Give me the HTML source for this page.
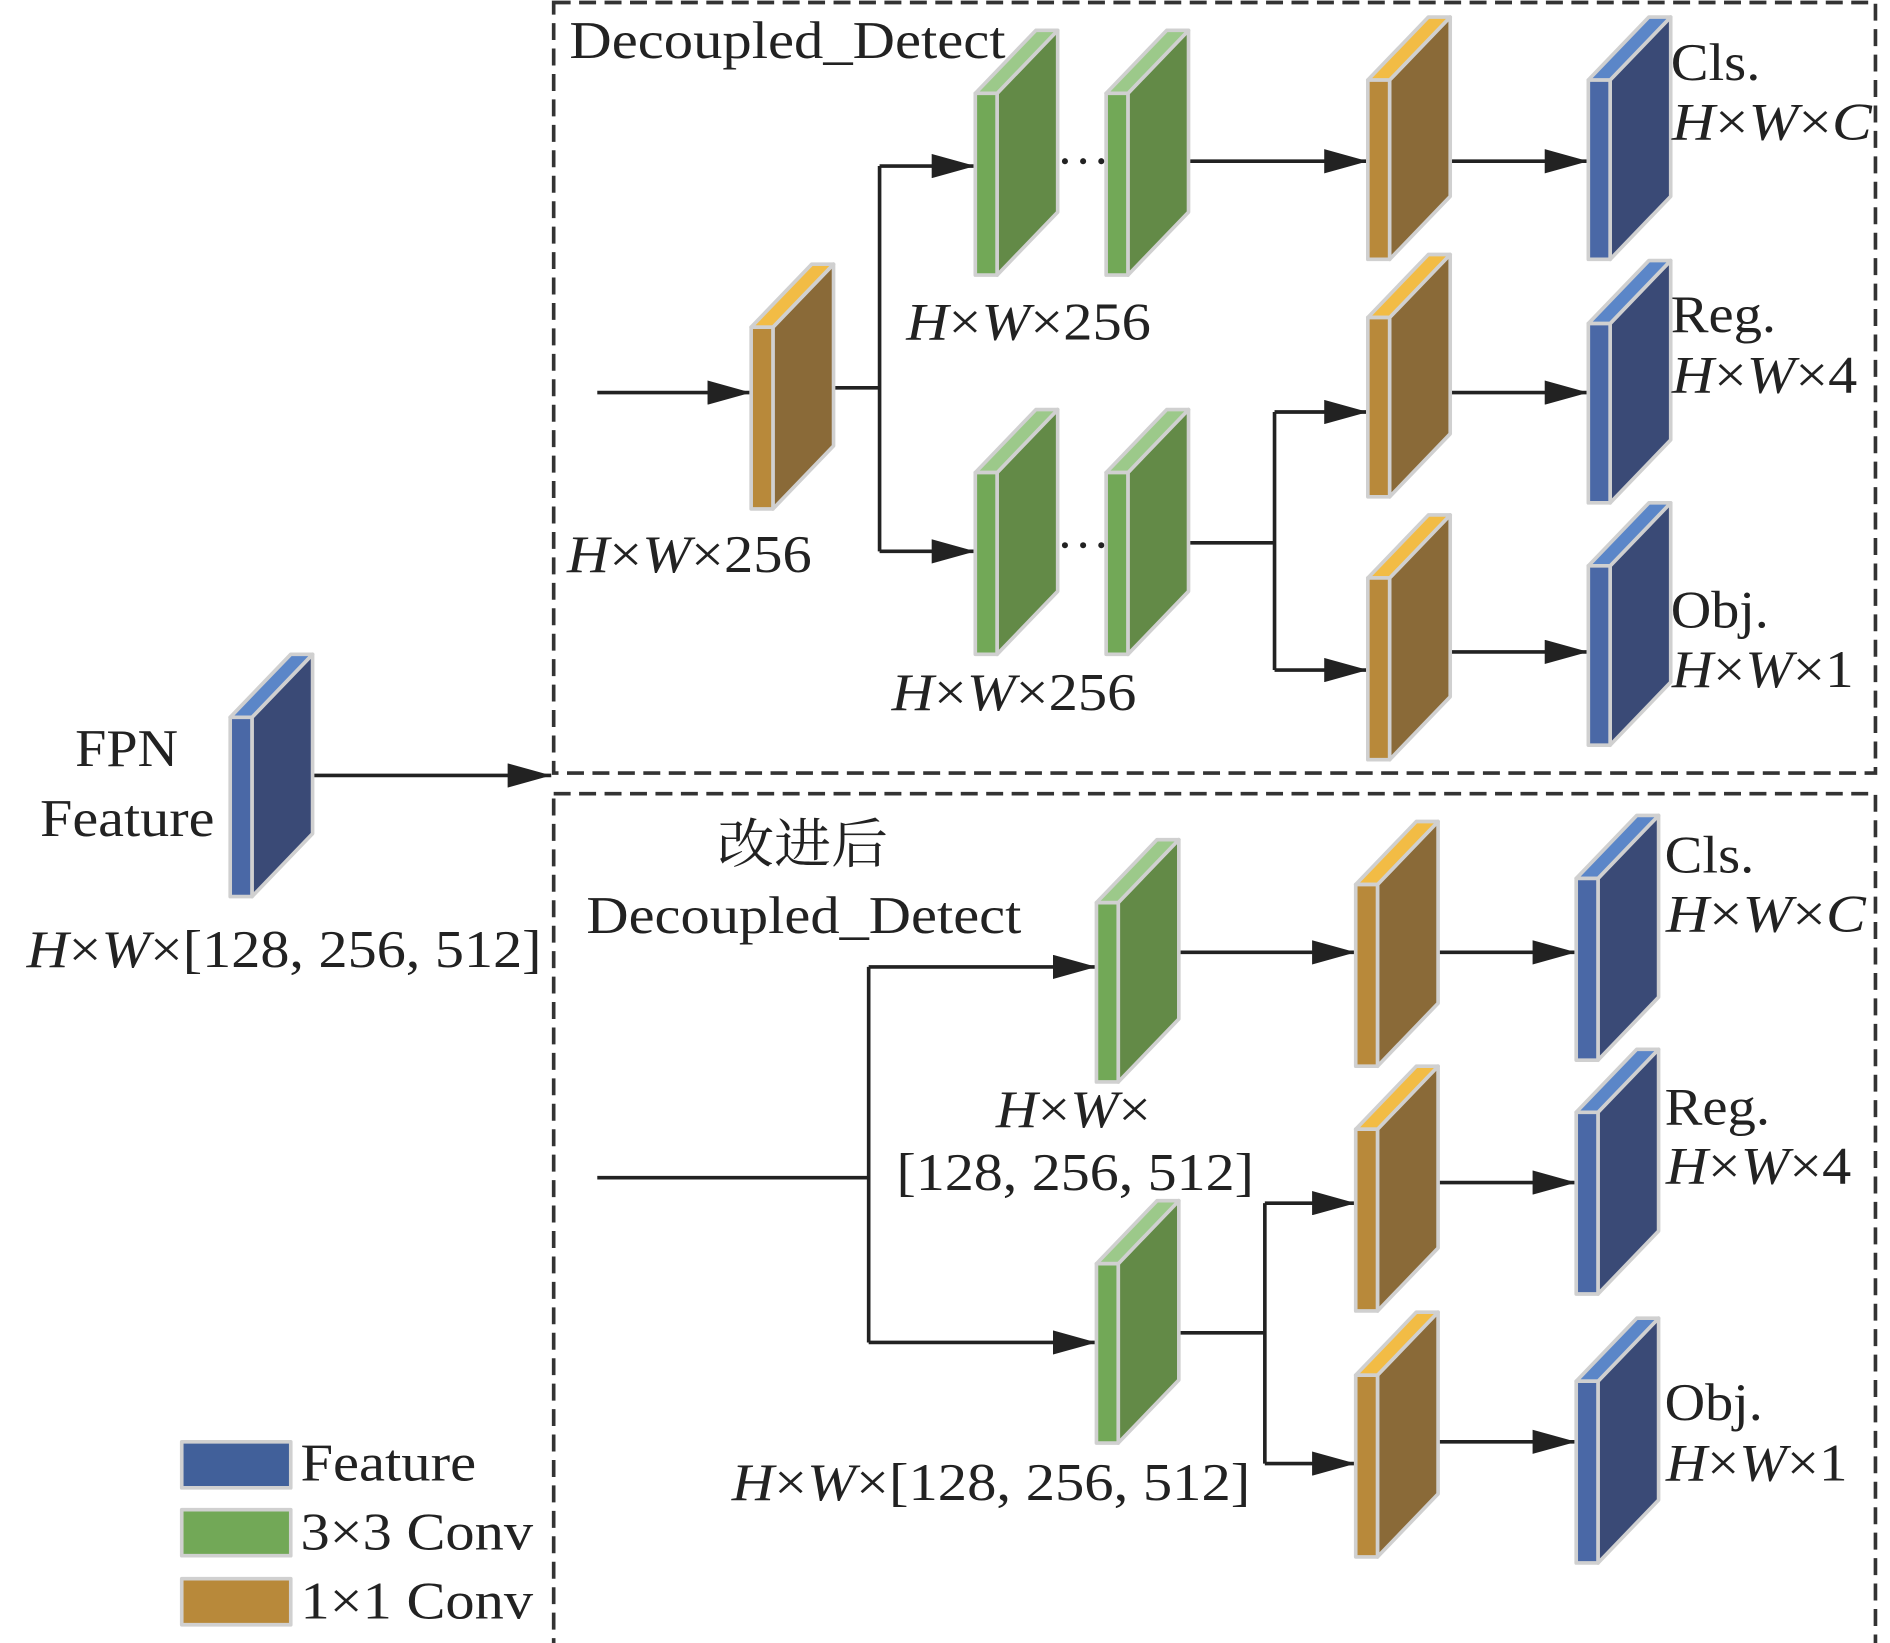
<!DOCTYPE html>
<html><head><meta charset="utf-8"><style>html,body{margin:0;padding:0;background:#fff}svg{display:block}</style></head><body>
<svg width="1890" height="1643" viewBox="0 0 1560 1356" xmlns="http://www.w3.org/2000/svg" font-family="'Liberation Serif','Noto Serif CJK SC',serif" font-size="44" fill="#222">
<defs>
<marker id="ar" viewBox="0 0 36 20" markerWidth="36" markerHeight="20" refX="36" refY="10" orient="auto" markerUnits="userSpaceOnUse"><path d="M0,0 L36,10 L0,20 z" fill="#222"/></marker>
</defs>
<g fill="none" stroke="#333" stroke-width="3" stroke-dasharray="14,7">
<rect x="457" y="2" width="1091" height="636"/>
<rect x="457" y="655" width="1091" height="703"/>
</g>
<g stroke="#222" stroke-width="3" fill="none">
<path d="M258,640 H455" marker-end="url(#ar)"/>
<path d="M493,324 H620" marker-end="url(#ar)"/>
<path d="M688,320 H726 M726,137 V455"/>
<path d="M726,137 H805" marker-end="url(#ar)"/>
<path d="M726,455 H805" marker-end="url(#ar)"/>
<path d="M981,133 H1129" marker-end="url(#ar)"/>
<path d="M1197,133 H1311" marker-end="url(#ar)"/>
<path d="M981,448 H1052 M1052,340 V553"/>
<path d="M1052,340 H1129" marker-end="url(#ar)"/>
<path d="M1052,553 H1129" marker-end="url(#ar)"/>
<path d="M1197,324 H1311" marker-end="url(#ar)"/>
<path d="M1197,538 H1311" marker-end="url(#ar)"/>
<path d="M493,972 H717 M717,798 V1108"/>
<path d="M717,798 H905" marker-end="url(#ar)"/>
<path d="M717,1108 H905" marker-end="url(#ar)"/>
<path d="M973,786 H1119" marker-end="url(#ar)"/>
<path d="M1187,786 H1301" marker-end="url(#ar)"/>
<path d="M973,1100 H1044 M1044,993 V1208"/>
<path d="M1044,993 H1119" marker-end="url(#ar)"/>
<path d="M1044,1208 H1119" marker-end="url(#ar)"/>
<path d="M1187,976 H1301" marker-end="url(#ar)"/>
<path d="M1187,1190 H1301" marker-end="url(#ar)"/>
</g>
<g fill="#222"><circle cx="879" cy="133" r="2.5"/><circle cx="894" cy="133" r="2.5"/><circle cx="909" cy="133" r="2.5"/>
<circle cx="879" cy="450" r="2.5"/><circle cx="894" cy="450" r="2.5"/><circle cx="909" cy="450" r="2.5"/></g>
<g stroke="#d0d0d0" stroke-width="3" stroke-linejoin="round">
<path d="M208,592 L258,540 L258,688 L208,740 Z" fill="#3a4a76"/><path d="M190,592 L208,592 L258,540 L240,540 Z" fill="#5b86c8"/><rect x="190" y="592" width="18" height="148" fill="#4a68a6"/>
<path d="M638,270 L688,218 L688,368 L638,420 Z" fill="#8a6a38"/><path d="M620,270 L638,270 L688,218 L670,218 Z" fill="#f2bc45"/><rect x="620" y="270" width="18" height="150" fill="#b8893a"/>
<path d="M823,77 L873,25 L873,175 L823,227 Z" fill="#638a47"/><path d="M805,77 L823,77 L873,25 L855,25 Z" fill="#9cc98a"/><rect x="805" y="77" width="18" height="150" fill="#72a857"/>
<path d="M931,77 L981,25 L981,175 L931,227 Z" fill="#638a47"/><path d="M913,77 L931,77 L981,25 L963,25 Z" fill="#9cc98a"/><rect x="913" y="77" width="18" height="150" fill="#72a857"/>
<path d="M823,390 L873,338 L873,488 L823,540 Z" fill="#638a47"/><path d="M805,390 L823,390 L873,338 L855,338 Z" fill="#9cc98a"/><rect x="805" y="390" width="18" height="150" fill="#72a857"/>
<path d="M931,390 L981,338 L981,488 L931,540 Z" fill="#638a47"/><path d="M913,390 L931,390 L981,338 L963,338 Z" fill="#9cc98a"/><rect x="913" y="390" width="18" height="150" fill="#72a857"/>
<path d="M1147,66 L1197,14 L1197,162 L1147,214 Z" fill="#8a6a38"/><path d="M1129,66 L1147,66 L1197,14 L1179,14 Z" fill="#f2bc45"/><rect x="1129" y="66" width="18" height="148" fill="#b8893a"/>
<path d="M1147,262 L1197,210 L1197,358 L1147,410 Z" fill="#8a6a38"/><path d="M1129,262 L1147,262 L1197,210 L1179,210 Z" fill="#f2bc45"/><rect x="1129" y="262" width="18" height="148" fill="#b8893a"/>
<path d="M1147,477 L1197,425 L1197,575 L1147,627 Z" fill="#8a6a38"/><path d="M1129,477 L1147,477 L1197,425 L1179,425 Z" fill="#f2bc45"/><rect x="1129" y="477" width="18" height="150" fill="#b8893a"/>
<path d="M1329,66 L1379,14 L1379,162 L1329,214 Z" fill="#3a4a76"/><path d="M1311,66 L1329,66 L1379,14 L1361,14 Z" fill="#5b86c8"/><rect x="1311" y="66" width="18" height="148" fill="#4a68a6"/>
<path d="M1329,267 L1379,215 L1379,363 L1329,415 Z" fill="#3a4a76"/><path d="M1311,267 L1329,267 L1379,215 L1361,215 Z" fill="#5b86c8"/><rect x="1311" y="267" width="18" height="148" fill="#4a68a6"/>
<path d="M1329,467 L1379,415 L1379,563 L1329,615 Z" fill="#3a4a76"/><path d="M1311,467 L1329,467 L1379,415 L1361,415 Z" fill="#5b86c8"/><rect x="1311" y="467" width="18" height="148" fill="#4a68a6"/>
<path d="M923,745 L973,693 L973,841 L923,893 Z" fill="#638a47"/><path d="M905,745 L923,745 L973,693 L955,693 Z" fill="#9cc98a"/><rect x="905" y="745" width="18" height="148" fill="#72a857"/>
<path d="M923,1043 L973,991 L973,1139 L923,1191 Z" fill="#638a47"/><path d="M905,1043 L923,1043 L973,991 L955,991 Z" fill="#9cc98a"/><rect x="905" y="1043" width="18" height="148" fill="#72a857"/>
<path d="M1137,730 L1187,678 L1187,828 L1137,880 Z" fill="#8a6a38"/><path d="M1119,730 L1137,730 L1187,678 L1169,678 Z" fill="#f2bc45"/><rect x="1119" y="730" width="18" height="150" fill="#b8893a"/>
<path d="M1137,932 L1187,880 L1187,1030 L1137,1082 Z" fill="#8a6a38"/><path d="M1119,932 L1137,932 L1187,880 L1169,880 Z" fill="#f2bc45"/><rect x="1119" y="932" width="18" height="150" fill="#b8893a"/>
<path d="M1137,1135 L1187,1083 L1187,1233 L1137,1285 Z" fill="#8a6a38"/><path d="M1119,1135 L1137,1135 L1187,1083 L1169,1083 Z" fill="#f2bc45"/><rect x="1119" y="1135" width="18" height="150" fill="#b8893a"/>
<path d="M1319,725 L1369,673 L1369,823 L1319,875 Z" fill="#3a4a76"/><path d="M1301,725 L1319,725 L1369,673 L1351,673 Z" fill="#5b86c8"/><rect x="1301" y="725" width="18" height="150" fill="#4a68a6"/>
<path d="M1319,918 L1369,866 L1369,1016 L1319,1068 Z" fill="#3a4a76"/><path d="M1301,918 L1319,918 L1369,866 L1351,866 Z" fill="#5b86c8"/><rect x="1301" y="918" width="18" height="150" fill="#4a68a6"/>
<path d="M1319,1140 L1369,1088 L1369,1238 L1319,1290 Z" fill="#3a4a76"/><path d="M1301,1140 L1319,1140 L1369,1088 L1351,1088 Z" fill="#5b86c8"/><rect x="1301" y="1140" width="18" height="150" fill="#4a68a6"/>
<rect x="150" y="1190" width="90" height="38" fill="#41609a"/>
<rect x="150" y="1246" width="90" height="38" fill="#72a857"/>
<rect x="150" y="1303" width="90" height="38" fill="#b8893a"/>
</g>
<g lengthAdjust="spacingAndGlyphs">
<text x="470" y="48" textLength="360" lengthAdjust="spacingAndGlyphs">Decoupled_Detect</text>
<text x="748" y="280" textLength="202" lengthAdjust="spacingAndGlyphs"><tspan font-style="italic">H</tspan>×<tspan font-style="italic">W</tspan>×256</text>
<text x="468" y="472" textLength="202" lengthAdjust="spacingAndGlyphs"><tspan font-style="italic">H</tspan>×<tspan font-style="italic">W</tspan>×256</text>
<text x="736" y="586" textLength="202" lengthAdjust="spacingAndGlyphs"><tspan font-style="italic">H</tspan>×<tspan font-style="italic">W</tspan>×256</text>
<text x="1379" y="66" textLength="74" lengthAdjust="spacingAndGlyphs">Cls.</text>
<text x="1380" y="115" textLength="165" lengthAdjust="spacingAndGlyphs"><tspan font-style="italic">H</tspan>×<tspan font-style="italic">W</tspan>×<tspan font-style="italic">C</tspan></text>
<text x="1379" y="274" textLength="87" lengthAdjust="spacingAndGlyphs">Reg.</text>
<text x="1380" y="324" textLength="153" lengthAdjust="spacingAndGlyphs"><tspan font-style="italic">H</tspan>×<tspan font-style="italic">W</tspan>×4</text>
<text x="1379" y="518" textLength="81" lengthAdjust="spacingAndGlyphs">Obj.</text>
<text x="1380" y="567" textLength="150" lengthAdjust="spacingAndGlyphs"><tspan font-style="italic">H</tspan>×<tspan font-style="italic">W</tspan>×1</text>
<text x="62" y="632" textLength="85" lengthAdjust="spacingAndGlyphs">FPN</text>
<text x="33" y="690" textLength="144" lengthAdjust="spacingAndGlyphs">Feature</text>
<text x="22" y="798" textLength="425" lengthAdjust="spacingAndGlyphs"><tspan font-style="italic">H</tspan>×<tspan font-style="italic">W</tspan>×[128, 256, 512]</text>
<text x="592" y="712" textLength="141" lengthAdjust="spacingAndGlyphs">改进后</text>
<text x="484" y="770" textLength="359" lengthAdjust="spacingAndGlyphs">Decoupled_Detect</text>
<text x="822" y="930" textLength="128" lengthAdjust="spacingAndGlyphs"><tspan font-style="italic">H</tspan>×<tspan font-style="italic">W</tspan>×</text>
<text x="740" y="982" textLength="295" lengthAdjust="spacingAndGlyphs">[128, 256, 512]</text>
<text x="604" y="1238" textLength="428" lengthAdjust="spacingAndGlyphs"><tspan font-style="italic">H</tspan>×<tspan font-style="italic">W</tspan>×[128, 256, 512]</text>
<text x="1374" y="720" textLength="74" lengthAdjust="spacingAndGlyphs">Cls.</text>
<text x="1375" y="769" textLength="165" lengthAdjust="spacingAndGlyphs"><tspan font-style="italic">H</tspan>×<tspan font-style="italic">W</tspan>×<tspan font-style="italic">C</tspan></text>
<text x="1374" y="928" textLength="87" lengthAdjust="spacingAndGlyphs">Reg.</text>
<text x="1375" y="977" textLength="153" lengthAdjust="spacingAndGlyphs"><tspan font-style="italic">H</tspan>×<tspan font-style="italic">W</tspan>×4</text>
<text x="1374" y="1172" textLength="81" lengthAdjust="spacingAndGlyphs">Obj.</text>
<text x="1375" y="1222" textLength="150" lengthAdjust="spacingAndGlyphs"><tspan font-style="italic">H</tspan>×<tspan font-style="italic">W</tspan>×1</text>
<text x="248" y="1222" textLength="145" lengthAdjust="spacingAndGlyphs">Feature</text>
<text x="248" y="1279" textLength="192" lengthAdjust="spacingAndGlyphs">3×3 Conv</text>
<text x="248" y="1336" textLength="192" lengthAdjust="spacingAndGlyphs">1×1 Conv</text>
</g>
</svg>
</body></html>
